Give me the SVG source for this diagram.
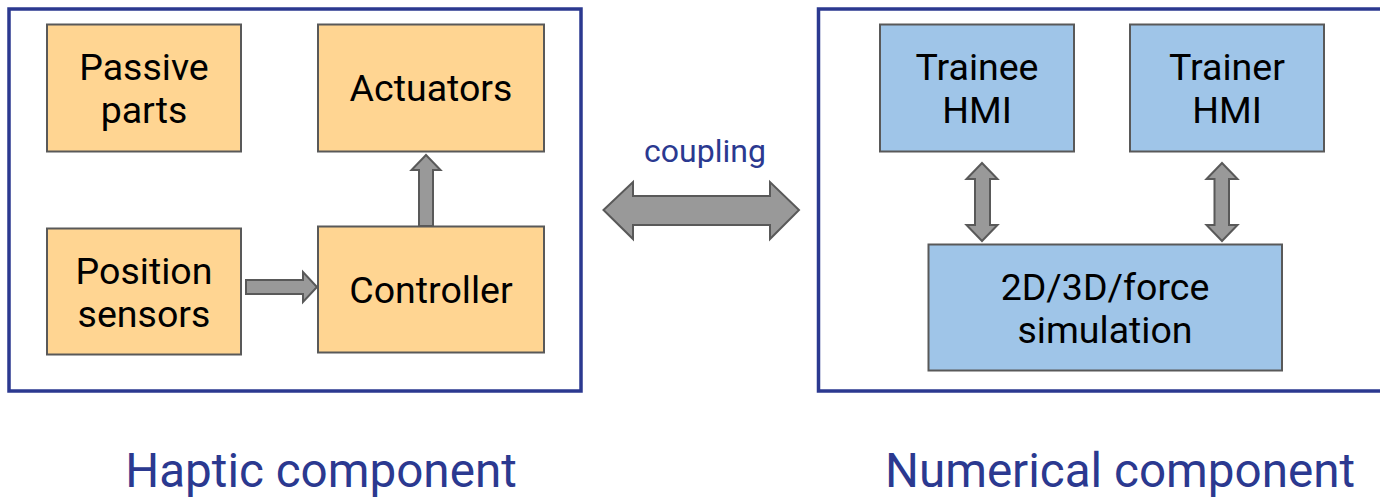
<svg xmlns="http://www.w3.org/2000/svg" width="1380" height="497" viewBox="0 0 1380 497">
  <style>
    .frame { fill: none; stroke: #2b3990; stroke-width: 3.5; }
    .box { stroke: #595959; stroke-width: 2; }
    .hap { fill: #ffd592; }
    .num { fill: #9fc5e8; }
    .arrow { fill: #999999; stroke: #595959; stroke-width: 2; stroke-linejoin: miter; }
    .lbl { font-family: Roboto, "Liberation Sans", sans-serif; font-size: 37.5px; fill: #000000; text-anchor: middle; }
    .title { font-family: Roboto, "Liberation Sans", sans-serif; font-size: 47.6px; fill: #2b3990; text-anchor: middle; }
    .note { font-family: Roboto, "Liberation Sans", sans-serif; font-size: 32px; fill: #2b3990; text-anchor: middle; }
  </style>

  <rect width="1380" height="497" fill="#ffffff"/>

  <!-- component frames -->
  <g id="haptic-frame">
    <rect class="frame" x="9" y="9" width="572" height="382"/>
  </g>
  <g id="numerical-frame">
    <rect class="frame" x="818.5" y="9" width="580" height="382"/>
  </g>

  <!-- haptic component blocks -->
  <g id="passive-parts">
    <rect class="box hap" x="47" y="24.5" width="194" height="127"/>
    <text class="lbl" x="144" y="80">Passive</text>
    <text class="lbl" x="144" y="123">parts</text>
  </g>
  <g id="actuators">
    <rect class="box hap" x="318" y="24.5" width="226" height="127"/>
    <text class="lbl" x="431" y="101">Actuators</text>
  </g>
  <g id="position-sensors">
    <rect class="box hap" x="47" y="228.5" width="194" height="126"/>
    <text class="lbl" x="144" y="284">Position</text>
    <text class="lbl" x="144" y="327">sensors</text>
  </g>
  <g id="controller">
    <rect class="box hap" x="318" y="226.5" width="226" height="126"/>
    <text class="lbl" x="431" y="303">Controller</text>
  </g>

  <!-- numerical component blocks -->
  <g id="trainee-hmi">
    <rect class="box num" x="880" y="24.5" width="194" height="127"/>
    <text class="lbl" x="977" y="80">Trainee</text>
    <text class="lbl" x="977" y="123">HMI</text>
  </g>
  <g id="trainer-hmi">
    <rect class="box num" x="1130" y="24.5" width="194" height="127"/>
    <text class="lbl" x="1227" y="80">Trainer</text>
    <text class="lbl" x="1227" y="123">HMI</text>
  </g>
  <g id="simulation">
    <rect class="box num" x="928.5" y="244.5" width="353.5" height="126"/>
    <text class="lbl" x="1105" y="300">2D/3D/force</text>
    <text class="lbl" x="1105" y="343">simulation</text>
  </g>

  <!-- connectors -->
  <g id="connectors">
    <!-- position sensors to controller -->
    <polygon class="arrow" points="246,280 303,280 303,272 317,287 303,302 303,294 246,294"/>
    <!-- controller to actuators -->
    <polygon class="arrow" points="419,226 419,170 411.5,170 426,155 440.5,170 433,170 433,226"/>
    <!-- trainee HMI <-> simulation -->
    <polygon class="arrow" points="982,163 997.5,179 990,179 990,225 997.5,225 982,241 966.5,225 975,225 975,179 966.5,179"/>
    <!-- trainer HMI <-> simulation -->
    <polygon class="arrow" points="1222,163 1237.5,179 1229,179 1229,225 1237.5,225 1222,241 1206.5,225 1214.5,225 1214.5,179 1206.5,179"/>
    <!-- coupling between components -->
    <polygon class="arrow" points="603.5,210 633,182 633,196 770,196 770,182 799,210 770,239 770,225 633,225 633,239"/>
    <text class="note" x="705" y="162">coupling</text>
  </g>

  <!-- captions -->
  <g id="captions">
    <text class="title" x="321" y="487">Haptic component</text>
    <text class="title" x="1120" y="487">Numerical component</text>
  </g>
</svg>
